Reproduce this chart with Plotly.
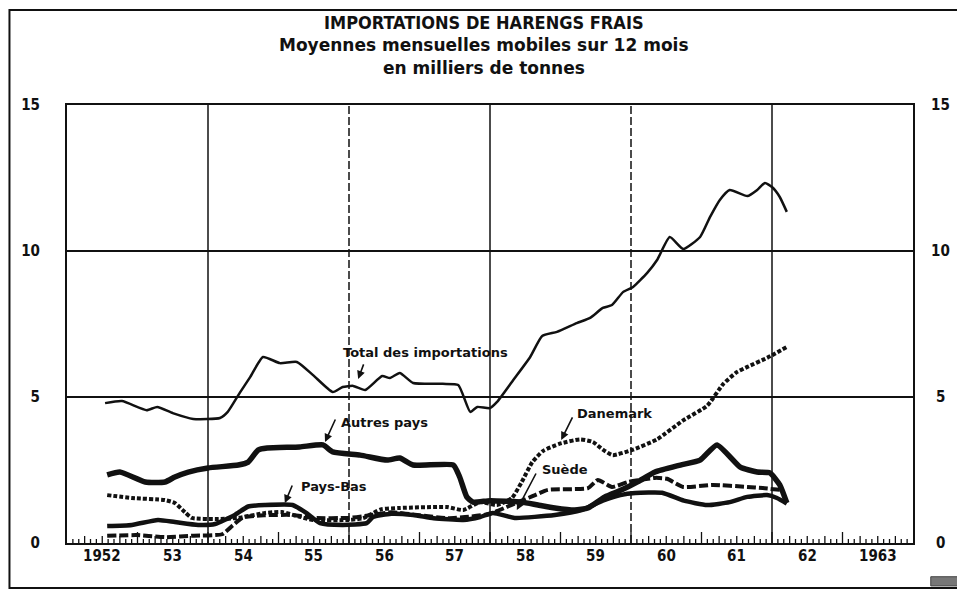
import plotly.graph_objects as go

# ---------------- data (thousand tonnes, 12-month moving averages) ----------------
TOTAL_X = [1952.54, 1952.78, 1953.13, 1953.28, 1953.50, 1953.79, 1954.17, 1954.28, 1954.45, 1954.60,
           1954.78, 1955.02, 1955.26, 1955.49, 1955.77, 1955.91, 1956.06, 1956.23, 1956.47, 1956.58,
           1956.72, 1956.91, 1957.33, 1957.55, 1957.72, 1957.82, 1958.00, 1958.10, 1958.33, 1958.57,
           1958.74, 1958.95, 1959.23, 1959.42, 1959.60, 1959.73, 1959.89, 1960.03, 1960.23, 1960.37,
           1960.55, 1960.74, 1960.98, 1961.12, 1961.26, 1961.40, 1961.65, 1961.79, 1961.90, 1962.00,
           1962.11, 1962.21]
TOTAL_Y = [4.79, 4.86, 4.55, 4.66, 4.45, 4.25, 4.28, 4.49, 5.14, 5.69,
           6.37, 6.16, 6.20, 5.75, 5.17, 5.34, 5.38, 5.24, 5.72, 5.65,
           5.82, 5.48, 5.45, 5.41, 4.49, 4.66, 4.62, 4.83, 5.58, 6.37,
           7.09, 7.23, 7.53, 7.71, 8.05, 8.15, 8.60, 8.77, 9.25, 9.69,
           10.48, 10.07, 10.48, 11.16, 11.75, 12.09, 11.88, 12.09, 12.33, 12.19,
           11.85, 11.34]

AUTRES_X = [1952.57, 1952.75, 1953.11, 1953.39, 1953.53, 1953.72, 1954.00, 1954.43, 1954.57, 1954.71,
            1954.84, 1955.30, 1955.63, 1955.77, 1956.16, 1956.54, 1956.72, 1956.91, 1957.48, 1957.57,
            1957.67, 1957.76, 1958.00, 1958.45, 1958.68, 1958.92, 1959.20, 1959.39, 1959.63, 1959.87,
            1960.10, 1960.34, 1960.70, 1960.98, 1961.22, 1961.55, 1961.79, 1961.97, 1962.11, 1962.21]
AUTRES_Y = [2.33, 2.43, 2.09, 2.09, 2.26, 2.43, 2.57, 2.67, 2.77, 3.18,
            3.25, 3.29, 3.36, 3.12, 3.01, 2.84, 2.91, 2.67, 2.67, 2.26,
            1.58, 1.40, 1.45, 1.40, 1.30, 1.20, 1.13, 1.20, 1.58, 1.82,
            2.10, 2.43, 2.67, 2.84, 3.36, 2.60, 2.43, 2.40, 1.99, 1.37]

DANEMARK_X = [1952.57, 1952.92, 1953.39, 1953.53, 1953.67, 1953.77, 1954.10, 1954.43, 1954.81, 1955.05,
              1955.30, 1955.49, 1956.00, 1956.20, 1956.45, 1956.72, 1957.39, 1957.62, 1957.86, 1958.10,
              1958.31, 1958.45, 1958.60, 1958.75, 1958.99, 1959.28, 1959.46, 1959.60, 1959.74, 1960.03,
              1960.37, 1960.74, 1961.08, 1961.31, 1961.50, 1961.65, 1961.93, 1962.21]
DANEMARK_Y = [1.64, 1.54, 1.47, 1.37, 1.06, 0.86, 0.82, 0.86, 1.03, 1.06,
              0.90, 0.79, 0.79, 0.85, 1.15, 1.20, 1.23, 1.13, 1.40, 1.30,
              1.54, 2.09, 2.77, 3.15, 3.40, 3.55, 3.46, 3.20, 3.01, 3.20,
              3.55, 4.20, 4.70, 5.45, 5.85, 6.03, 6.34, 6.71]

SUEDE_X = [1952.57, 1953.00, 1953.40, 1953.80, 1954.20, 1954.35, 1954.50, 1954.80, 1955.20, 1955.50,
           1956.00, 1956.30, 1956.60, 1957.00, 1957.40, 1957.70, 1958.00, 1958.30, 1958.55, 1958.64,
           1958.82, 1959.39, 1959.53, 1959.73, 1959.96, 1960.34, 1960.51, 1960.74, 1961.16, 1961.65,
           1961.87, 1962.11]
SUEDE_Y = [0.25, 0.27, 0.20, 0.25, 0.30, 0.60, 0.88, 0.95, 0.96, 0.86,
           0.86, 0.95, 1.05, 0.95, 0.85, 0.90, 1.00, 1.30, 1.55, 1.64,
           1.82, 1.88, 2.16, 1.92, 2.09, 2.23, 2.20, 1.92, 1.99, 1.92,
           1.88, 1.82]

PAYSBAS_X = [1952.57, 1952.92, 1953.29, 1953.53, 1953.86, 1954.10, 1954.38, 1954.57, 1954.81, 1955.20,
             1955.40, 1955.59, 1955.91, 1956.25, 1956.34, 1956.60, 1956.91, 1957.20, 1957.62, 1957.86,
             1958.04, 1958.35, 1958.92, 1959.30, 1959.60, 1959.85, 1960.06, 1960.44, 1960.75, 1961.08,
             1961.40, 1961.65, 1961.93, 1962.07, 1962.21]
PAYSBAS_Y = [0.58, 0.62, 0.79, 0.72, 0.62, 0.65, 0.96, 1.25, 1.30, 1.30,
             1.02, 0.68, 0.62, 0.68, 0.89, 1.00, 0.96, 0.85, 0.79, 0.89,
             1.03, 0.86, 0.96, 1.13, 1.45, 1.64, 1.71, 1.72, 1.45, 1.30,
             1.40, 1.58, 1.64, 1.54, 1.35]

YEAR_STARTS = [1952, 1953, 1954, 1955, 1956, 1957, 1958, 1959, 1960, 1961, 1962, 1963]
YEAR_LABELS = ["1952", "53", "54", "55", "56", "57", "58", "59", "60", "61", "62", "1963"]
Y_TICKS = [0, 5, 10, 15]
Y_LABELS = ["0", "5", "10", "15"]
GRID_YEARS = [1954, 1956, 1958, 1960, 1962]
DASHED_GRID_YEARS = [1956, 1960]

TITLE_LINES = ["IMPORTATIONS DE HARENGS FRAIS",
               "Moyennes mensuelles mobiles sur 12 mois",
               "en milliers de tonnes"]

# series labels: (text, text_x, text_y, arrow tip x, arrow tip y)
LABELS = [
    ("Total des importations", 1957.08, 6.51, 1956.13, 5.62),
    ("Autres pays", 1956.50, 4.14, 1955.66, 3.46),
    ("Pays-Bas", 1955.79, 1.92, 1955.09, 1.37),
    ("Danemark", 1959.77, 4.45, 1959.01, 3.53),
    ("Suède", 1959.06, 2.53, 1958.38, 1.13),
]
ARROW_OFFSETS = [(6, -16), (11, -24), (8, -19), (12, -24), (20, -38)]

INK = "#111111"
COND = "DejaVu Sans Condensed, Liberation Sans Narrow, DejaVu Sans, sans-serif"
SANS = "DejaVu Sans, Liberation Sans, sans-serif"

fig = go.Figure()

def add_line(x, y, width, dash="solid", name=""):
    fig.add_trace(go.Scatter(x=x, y=y, mode="lines", name=name,
                             line=dict(color=INK, width=width, dash=dash, shape="spline", smoothing=0.5),
                             hoverinfo="skip"))

add_line(SUEDE_X, SUEDE_Y, 4, "9px,3px", "Suède")
add_line(PAYSBAS_X, PAYSBAS_Y, 4.5, "solid", "Pays-Bas")
add_line(DANEMARK_X, DANEMARK_Y, 4, "4px,2px", "Danemark")
add_line(AUTRES_X, AUTRES_Y, 5.5, "solid", "Autres pays")
add_line(TOTAL_X, TOTAL_Y, 2.5, "solid", "Total des importations")

PLOT_H_PX = 438.0
shapes = []
for yr in GRID_YEARS:
    shapes.append(dict(type="line", xref="x", yref="paper", x0=yr, x1=yr, y0=0, y1=1,
                       line=dict(color=INK, width=1.5,
                                 dash="8px,3px" if yr in DASHED_GRID_YEARS else "solid"),
                       layer="below"))
# monthly / quarterly / yearly ticks along the time axis
for y in range(YEAR_STARTS[0], YEAR_STARTS[-1] + 1):
    for m in range(12):
        if m == 0 and y == YEAR_STARTS[0]:
            continue
        length = 11 if m == 0 else (7 if m % 3 == 0 else 4)
        shapes.append(dict(type="line", xref="x", yref="paper", x0=y + m / 12, x1=y + m / 12,
                           y0=0, y1=length / PLOT_H_PX, line=dict(color=INK, width=1.3)))
# outer frame of the page
shapes.append(dict(type="rect", xref="paper", yref="paper", x0=-0.068, x1=1.0579, y0=-0.1027, y1=1.217,
                   line=dict(color=INK, width=2)))
# small stamp bottom-right
shapes.append(dict(type="rect", xref="paper", yref="paper", x0=1.021, x1=1.057, y0=-0.098, y1=-0.077,
                   line=dict(color="#444", width=1), fillcolor="#777"))

annotations = []
for i, line in enumerate(TITLE_LINES):
    annotations.append(dict(xref="paper", yref="paper", x=0.493, y=[1.189, 1.137, 1.084][i],
                            yanchor="middle", xanchor="center",
                            text="<b>%s</b>" % line, showarrow=False,
                            font=dict(family=COND if i == 0 else SANS, size=[18, 17, 17][i], color=INK)))
for yr, lab in zip(YEAR_STARTS, YEAR_LABELS):
    annotations.append(dict(xref="x", yref="paper", x=yr + 0.5, y=-0.03, yanchor="middle",
                            text="<b>%s</b>" % lab, showarrow=False,
                            font=dict(family=COND, size=15, color=INK)))
for v, lab in zip(Y_TICKS, Y_LABELS):
    annotations.append(dict(xref="paper", yref="y", x=1.032, y=v, xanchor="center", yanchor="middle",
                            text="<b>%s</b>" % lab, showarrow=False,
                            font=dict(family=COND, size=15, color=INK)))
for (txt, tx, ty, ax_, ay_), (dx, dy) in zip(LABELS, ARROW_OFFSETS):
    annotations.append(dict(xref="x", yref="y", x=tx, y=ty, text="<b>%s</b>" % txt, showarrow=False,
                            font=dict(family=SANS, size=13, color=INK)))
    annotations.append(dict(xref="x", yref="y", x=ax_, y=ay_, text="", showarrow=True,
                            ax=dx, ay=dy, arrowhead=2, arrowsize=1, arrowwidth=1.6, arrowcolor=INK))

# page has an 8px body margin: figure is 957x583 so that the plot sits where the original does
fig.update_layout(
    width=957, height=583,
    margin=dict(l=59, r=52, t=97, b=48),
    paper_bgcolor="white", plot_bgcolor="white",
    showlegend=False,
    shapes=shapes, annotations=annotations,
    xaxis=dict(range=[1952, 1964], showline=True, mirror=True, linewidth=2, linecolor=INK,
               ticks="", showticklabels=False, showgrid=False, zeroline=False),
    yaxis=dict(range=[0, 15], tickmode="array", tickvals=Y_TICKS,
               ticktext=["<b>%s</b>" % t for t in Y_LABELS], ticks="", ticklabelstandoff=22,
               tickfont=dict(family=COND, size=15, color=INK),
               showline=True, mirror=True, linewidth=2, linecolor=INK,
               showgrid=True, gridcolor=INK, gridwidth=1.5, zeroline=False),
)

fig.write_html("out.html")
